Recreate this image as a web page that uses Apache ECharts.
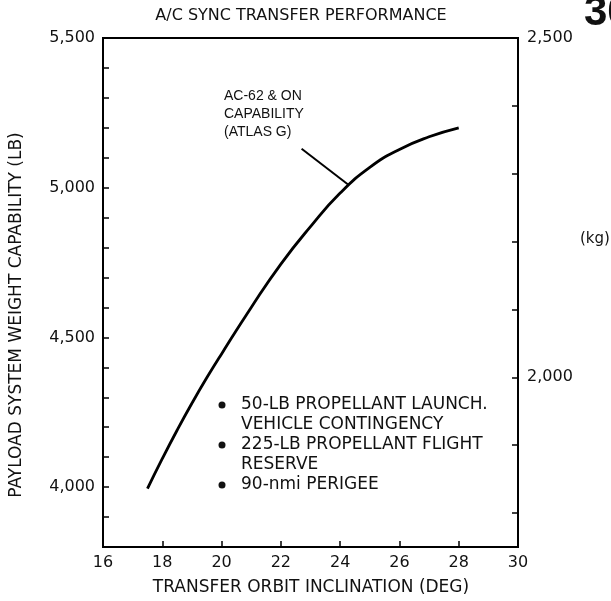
<!DOCTYPE html>
<html>
<head>
<meta charset="utf-8">
<script src="https://cdn.jsdelivr.net/npm/echarts@6/dist/echarts.min.js"></script>
<style>
html,body{margin:0;padding:0;background:#fff;}
#chart{width:611px;height:601px;}
</style>
</head>
<body>
<div id="chart"></div>
<script>
// Data
var inclinationDeg = [17.5, 18, 18.5, 19, 19.5, 20, 21, 22, 23, 24, 25, 26, 27, 28];
var payloadLb = [3995, 4095, 4190, 4280, 4365, 4445, 4600, 4745, 4870, 4982, 5068, 5128, 5170, 5200];
var leaderX = [22.7, 24.3];
var leaderY = [5130, 5008];
var xTicks = [16, 18, 20, 22, 24, 26, 28, 30];
var lbLabels = [4000, 4500, 5000, 5500];
var kgLabels = [2000, 2500];
var kgTicks = [1800, 1900, 2000, 2100, 2200, 2300, 2400, 2500];
var noteLines = ['50-LB PROPELLANT LAUNCH.', 'VEHICLE CONTINGENCY', '225-LB PROPELLANT FLIGHT', 'RESERVE', '90-nmi PERIGEE'];
var noteBullets = [true, false, true, false, true];
var annoLines = ['AC-62 & ON', 'CAPABILITY', '(ATLAS G)'];

var FONT = 'DejaVu Sans';
var FONT2 = 'Liberation Sans';
function fmt(v){ return String(v).replace(/\B(?=(\d{3})+(?!\d))/g, ','); }

var chart = echarts.init(document.getElementById('chart'));
var curve = inclinationDeg.map(function(x,i){ return [x, payloadLb[i]]; });
var leader = leaderX.map(function(x,i){ return [x, leaderY[i]]; });

var graphics = [];
graphics.push({type:'text', x:301, y:8, style:{text:'A/C SYNC TRANSFER PERFORMANCE', font:'16px "'+FONT+'"', fill:'#111', align:'center'}});
graphics.push({type:'text', x:584, y:-8, style:{text:'30', font:'bold 42px "'+FONT2+'"', fill:'#111'}});
graphics.push({type:'text', x:580, y:232, style:{text:'(kg)', font:'15px "'+FONT+'"', fill:'#111'}});
graphics.push({type:'text', x:17, y:315, rotation:Math.PI/2, style:{text:'PAYLOAD SYSTEM WEIGHT CAPABILITY (LB)', font:'17px "'+FONT+'"', fill:'#111', align:'center', verticalAlign:'middle'}});
graphics.push({type:'text', x:311, y:579, style:{text:'TRANSFER ORBIT INCLINATION (DEG)', font:'17px "'+FONT+'"', fill:'#111', align:'center'}});
annoLines.forEach(function(t,i){
  graphics.push({type:'text', x:224, y:89+i*18, style:{text:t, font:'14px "'+FONT2+'"', fill:'#111'}});
});
noteLines.forEach(function(t,i){
  var y = 396 + i*20;
  if (noteBullets[i]) graphics.push({type:'circle', shape:{cx:222, cy:y+9, r:3.5}, style:{fill:'#111'}});
  graphics.push({type:'text', x:241, y:y, style:{text:t, font:'17px "'+FONT+'"', fill:'#111'}});
});

chart.setOption({
  animation:false,
  backgroundColor:'#fff',
  grid:{left:103, top:38, right:93, bottom:54, show:true, borderColor:'#000', borderWidth:2},
  xAxis:{type:'value', min:16, max:30, interval:2,
    axisLine:{lineStyle:{color:'#000', width:2}},
    axisTick:{inside:true, length:6, lineStyle:{color:'#000', width:1.5}},
    axisLabel:{fontFamily:FONT, fontSize:16, color:'#111', margin:8},
    splitLine:{show:false}},
  yAxis:[
    {type:'value', min:3800, max:5500, interval:100, position:'left',
      axisLine:{show:true, lineStyle:{color:'#000', width:2}},
      axisTick:{inside:true, length:6, lineStyle:{color:'#000', width:1.5}},
      axisLabel:{fontFamily:FONT, fontSize:16, color:'#111', margin:8,
        formatter:function(v){ return (v % 500 === 0 && v >= 4000) ? fmt(v) : ''; }},
      splitLine:{show:false}},
    {type:'value', min:1750, max:2500, position:'right',
      axisLine:{show:true, lineStyle:{color:'#000', width:2}},
      axisTick:{inside:true, length:6, customValues:kgTicks, lineStyle:{color:'#000', width:1.5}},
      axisLabel:{fontFamily:FONT, fontSize:16, color:'#111', margin:9, customValues:kgLabels,
        formatter:function(v){ return fmt(v); }},
      splitLine:{show:false}}
  ],
  graphic:graphics,
  series:[
    {type:'line', data:curve, smooth:true, symbol:'none', lineStyle:{color:'#000', width:2.8}},
    {type:'line', data:leader, symbol:'none', lineStyle:{color:'#000', width:2}}
  ]
});
</script>
</body>
</html>
